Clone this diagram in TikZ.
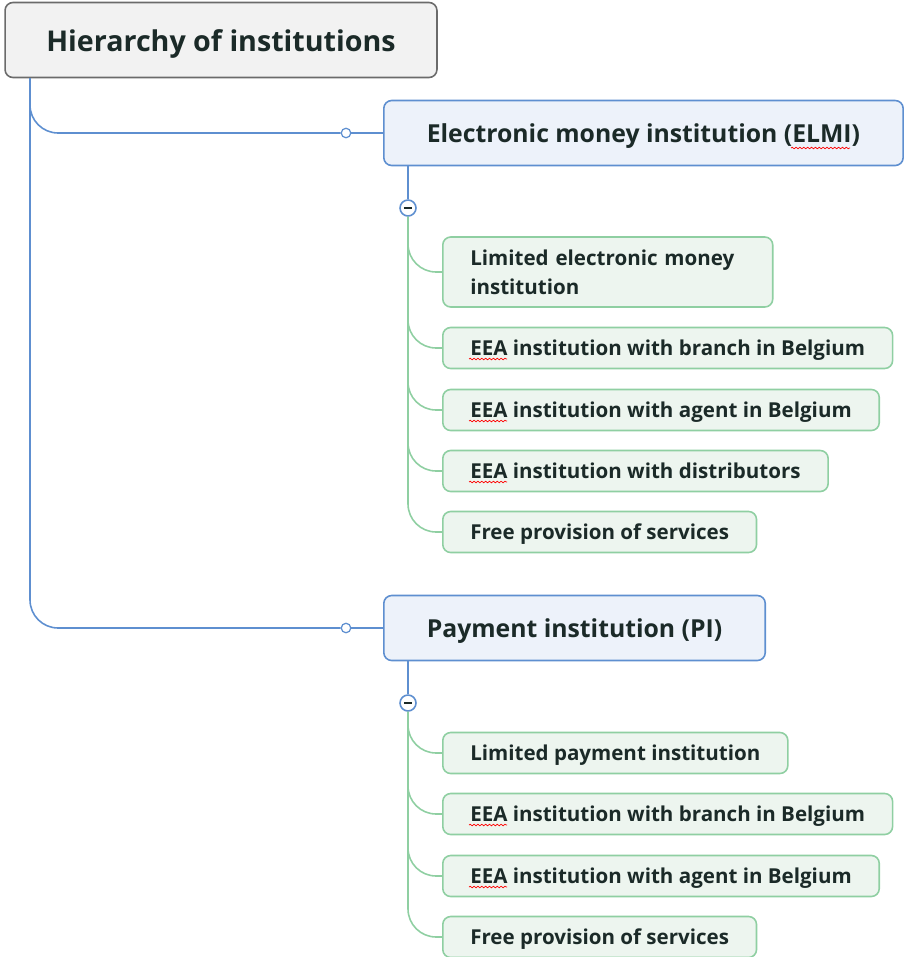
\documentclass[tikz,border=0pt]{standalone}
\usepackage{fontspec}
\setmainfont{Open Sans}
\usepackage{xcolor}
\usetikzlibrary{calc,decorations.pathmorphing}

\definecolor{rootfill}{HTML}{F2F2F2}
\definecolor{rootline}{HTML}{6B6B6B}
\definecolor{mainfill}{HTML}{EDF2FA}
\definecolor{mainline}{HTML}{5E8FD0}
\definecolor{leaffill}{HTML}{EDF5EF}
\definecolor{leafline}{HTML}{8FCFA2}
\definecolor{inktext}{HTML}{1B2A28}

\begin{document}
\begin{tikzpicture}[
  x=0.02cm, y=-0.02cm,
  box/.style={draw, rounded corners=4.5pt, line width=0.9pt, text=inktext, font=\bfseries},
  rootbox/.style={box, fill=rootfill, draw=rootline, minimum width=8.64cm, minimum height=1.5cm, text height=16.6pt, text depth=3pt, font=\bfseries\fontsize{16.3}{19}\selectfont},
  mainbox/.style={box, fill=mainfill, draw=mainline, anchor=west, minimum height=1.3cm, inner xsep=0.86cm, text height=13.3pt, text depth=2pt, font=\bfseries\fontsize{14.1}{17}\selectfont},
  leafbase/.style={box, fill=leaffill, draw=leafline, anchor=west, minimum height=0.82cm, inner xsep=0.55cm, align=left, font=\bfseries\fontsize{11.7}{16.5}\selectfont},
  leaf/.style={leafbase, text height=10.5pt, text depth=2pt},
  knot/.style={circle, draw=mainline, fill=white, line width=0.7pt, minimum size=0.19cm, inner sep=0pt},
  fold/.style={circle, draw=mainline, fill=white, line width=0.9pt, minimum size=0.32cm, inner sep=0pt},
  bluelink/.style={draw=mainline, line width=0.9pt, rounded corners=16pt},
  greenlink/.style={draw=leafline, line width=0.9pt, rounded corners=16pt},
  spell/.style={draw=red, line width=0.4pt, decorate, decoration={snake, amplitude=0.45pt, segment length=2.2pt}}
]
\useasboundingbox (0,0) rectangle (907,957);

% root
\node[rootbox] (root) at (221,40) {Hierarchy of institutions};
\coordinate (drop) at (30,78);

% (a) ELMI branch
\node[knot] (k1) at (346,133) {};
\node[mainbox] (elmi) at (383,133) {Electronic money institution (ELMI)};
\draw[bluelink] (drop) |- (k1);
\draw[bluelink] (k1) -- (elmi);

\node[fold] (f1) at (408,208) {};
\draw[mainline, line width=0.9pt] (elmi.south -| f1) -- (f1);
\draw[inktext, line width=1.3pt] ([xshift=-2.4pt]f1.center) -- ([xshift=2.4pt]f1.center);

\node[leafbase, text width=5.5cm, minimum height=1.4cm] (e1) at (442,272) {Limited electronic money\\institution};
\node[leaf] (e2) at (442,348) {EEA institution with branch in Belgium};
\node[leaf] (e3) at (442,410) {EEA institution with agent in Belgium};
\node[leaf] (e4) at (442,471) {EEA institution with distributors};
\node[leaf] (e5) at (442,532) {Free provision of services};

\draw[greenlink] (f1.south) |- (e1.west);
\draw[greenlink] (f1.south) |- (e2.west);
\draw[greenlink] (f1.south) |- (e3.west);
\draw[greenlink] (f1.south) |- (e4.west);
\draw[greenlink] (f1.south) |- (e5.west);

% (b) PI branch
\node[knot] (k2) at (346,628) {};
\node[mainbox] (pi) at (383,628) {Payment institution (PI)};
\draw[bluelink] (drop) |- (k2);
\draw[bluelink] (k2) -- (pi);

\node[fold] (f2) at (408,703) {};
\draw[mainline, line width=0.9pt] (pi.south -| f2) -- (f2);
\draw[inktext, line width=1.3pt] ([xshift=-2.4pt]f2.center) -- ([xshift=2.4pt]f2.center);

\node[leaf] (p1) at (442,753) {Limited payment institution};
\node[leaf] (p2) at (442,814) {EEA institution with branch in Belgium};
\node[leaf] (p3) at (442,876) {EEA institution with agent in Belgium};
\node[leaf] (p4) at (442,937) {Free provision of services};

\draw[greenlink] (f2.south) |- (p1.west);
\draw[greenlink] (f2.south) |- (p2.west);
\draw[greenlink] (f2.south) |- (p3.west);
\draw[greenlink] (f2.south) |- (p4.west);

% spell-check marks
\draw[spell] ($(elmi.west)+(408,15)$) -- ++(59,0);
\draw[spell] ($(e2.west)+(27,11)$) -- ++(38,0);
\draw[spell] ($(e3.west)+(27,11)$) -- ++(38,0);
\draw[spell] ($(e4.west)+(27,11)$) -- ++(38,0);
\draw[spell] ($(p2.west)+(27,11)$) -- ++(38,0);
\draw[spell] ($(p3.west)+(27,11)$) -- ++(38,0);

\end{tikzpicture}
\end{document}
